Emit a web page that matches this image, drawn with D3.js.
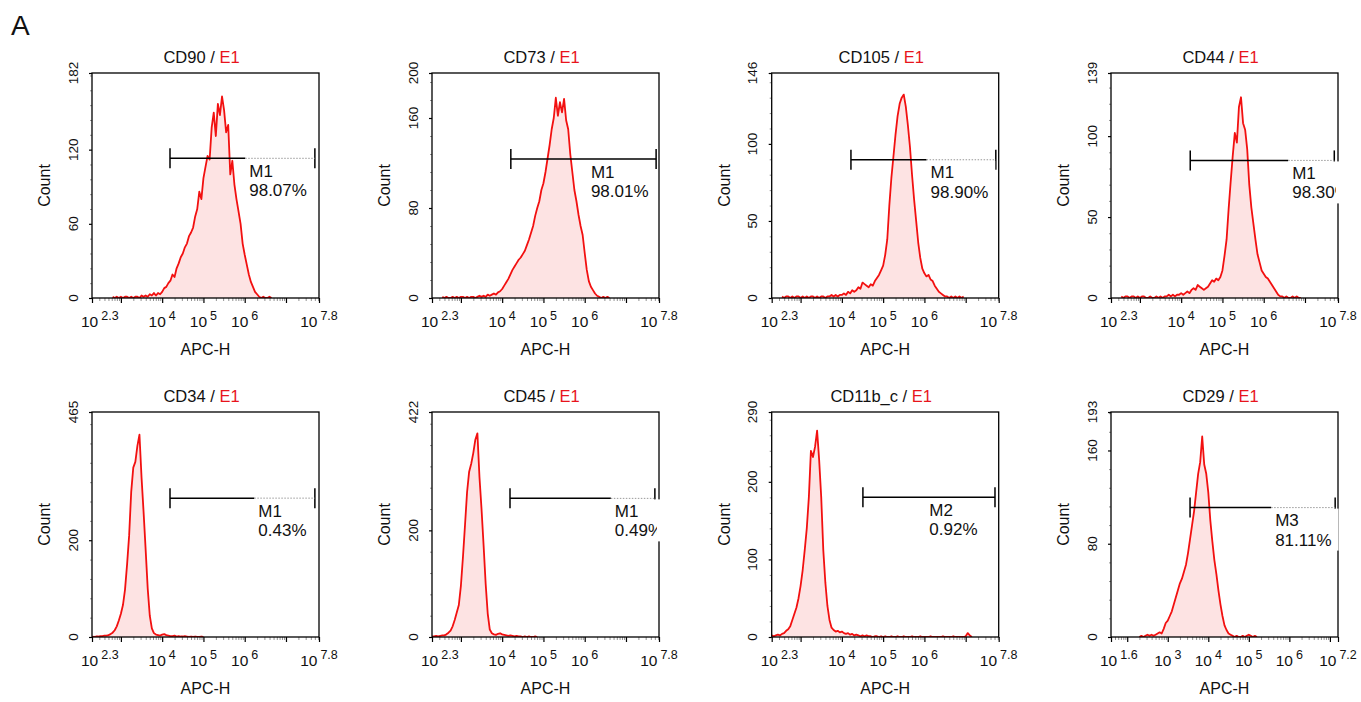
<!DOCTYPE html>
<meta charset="utf-8">
<style>

body {
  margin: 0;
  background: #fff;
  overflow: hidden;
}
svg text {
  font-family: "Liberation Sans", Arial, sans-serif;
  fill: #111;
}
.frame {
  fill: none;
  stroke: #000;
  stroke-width: 1.3;
}
.hist-fill {
  fill: #fde3e3;
  stroke: none;
}
.hist-line {
  fill: none;
  stroke: #f21010;
  stroke-width: 1.8;
  stroke-linejoin: round;
}
.axis path {
  display: none;
}
.axis.major line {
  stroke: #000;
  stroke-width: 1.2;
}
.axis.minor line {
  stroke: #777;
  stroke-width: 0.8;
}
.gate {
  stroke: #000;
  stroke-width: 1.5;
}
.gate-dot {
  stroke: #999;
  stroke-width: 1;
  stroke-dasharray: 1.5,1.5;
}

</style>
<svg id="svg" width="1361" height="702"></svg>
<script src="https://d3js.org/d3.v7.min.js"></script>
<script>

// ---- data ----
var markers = ["CD90", "CD73", "CD105", "CD44", "CD34", "CD45", "CD11b_c", "CD29"];
var sampleTag = "E1";

// x range of each panel, in log10 units
var xDomains = [[2.3, 7.8], [2.3, 7.8], [2.3, 7.8], [2.3, 7.8],
                [2.3, 7.8], [2.3, 7.8], [2.3, 7.8], [1.6, 7.2]];
var xTickLabels = [[2.3, 4, 5, 6, 7.8], [2.3, 4, 5, 6, 7.8], [2.3, 4, 5, 6, 7.8], [2.3, 4, 5, 6, 7.8],
                   [2.3, 4, 5, 6, 7.8], [2.3, 4, 5, 6, 7.8], [2.3, 4, 5, 6, 7.8], [1.6, 3, 4, 5, 6, 7.2]];

var yMax = [182, 200, 146, 139, 465, 422, 290, 193];
var yTicks = [[0, 60, 120, 182], [0, 80, 160, 200], [0, 50, 100, 146], [0, 50, 100, 139],
              [0, 200, 465], [0, 200, 422], [0, 100, 200, 290], [0, 80, 160, 193]];
var yMinorStep = [12, 16, 10, 10, 40, 40, 20, 16];

// marker gates: [low, high] in log10 units, level in counts, label position in log10 units
var gateNames = ["M1", "M1", "M1", "M1", "M1", "M1", "M2", "M3"];
var gatePct = ["98.07%", "98.01%", "98.90%", "98.30%", "0.43%", "0.49%", "0.92%", "81.11%"];
var gateLo = [4.19, 4.21, 4.22, 4.22, 4.19, 4.19, 4.51, 3.55];
var gateHi = [7.70, 7.73, 7.73, 7.71, 7.70, 7.70, 7.71, 7.13];
var gateLevel = [113, 123.5, 89.7, 85, 287, 260, 180, 111];
var gateLabelAt = [6.11, 6.15, 6.15, 6.69, 6.33, 6.73, 6.12, 5.65];

// histogram counts, one bin every 0.05 decade starting at histStart
var binStep = 0.05;
var histStart = [2.80, 2.55, 2.55, 2.55, 2.30, 2.30, 2.30, 2.30];

var cd90Counts = [1,0,1,0,1,0,1,1,0,1, 0,1,1,0,2,1,2,1,3,2, 4,2,4,3,5,8,9,12,14,19,
  17,24,28,33,36,41,44,50,53,57, 66,72,86,80,97,106,115,112,138,150,
  131,157,148,163,152,134,140,100,111,92, 80,70,60,44,35,27,19,13,9,5, 3,1,0,1,0,0,1,0];
var cd73Counts = [1,0,1,0,0,1,0,1,0,1, 1,0,1,0,1,1,0,1,2,1, 2,1,3,2,3,4,3,5,6,8,
  11,14,17,21,25,28,31,34,36,39, 42,47,52,58,64,73,80,86,96,102,
  112,124,136,150,160,178,162,174,165,177, 158,150,128,112,96,86,74,64,56,40,
  25,15,10,7,4,2,1,0,1,0, 1,0];
var cd105Counts = [1,0,1,1,0,1,0,1,1,0, 1,0,1,0,1,1,0,1,0,1, 1,0,1,1,2,1,2,1,2,2,
  3,2,4,3,5,4,5,7,6,10, 9,8,7,9,8,11,13,15,18,21, 28,38,60,78,92,106,118,126,130,132,
  124,112,98,80,64,50,36,26,19,16, 14,15,12,11,8,6,4,3,2,1, 1,0,1,0,1,0,1,0,1];
var cd44Counts = [1,0,1,1,0,1,1,0,1,0, 1,1,0,0,1,0,0,1,0,1, 0,1,1,2,1,2,1,2,2,3,
  2,3,4,3,5,6,5,8,7,6, 5,6,7,9,11,10,12,11,13,17, 26,36,55,72,88,102,96,118,124,108,
  104,92,70,56,46,36,27,22,17,15, 13,12,10,8,6,4,2,1,1,0, 1,0,0,1,0,1,0,0];
var cd34Counts = [1,0,1,1,2,2,3,3,4,6, 9,14,22,34,48,66,98,150,210,300,
  350,362,395,418,330,258,180,100,44,18, 8,5,4,3,5,6,4,3,2,2, 3,1,2,1,1,2,1,0,1,0, 1,0,0,1,0];
var cd45Counts = [1,1,2,1,2,3,3,5,8,12, 20,32,46,60,96,150,210,272,310,325,
  345,370,382,300,240,172,100,44,14,7, 5,4,6,7,5,4,3,2,3,2, 1,2,1,1,0,1,0,1,0,0, 1,0];
var cd11bCounts = [2,1,2,3,2,4,5,8,10,14, 22,30,38,50,66,86,112,140,180,240,
  232,245,266,228,180,112,70,40,22,12, 9,7,8,6,7,5,4,5,3,4, 2,3,2,1,2,1,2,1,1,0,
  1,1,0,1,0,1,0,0,1,0, 0,1,0,0,1,0,0,0,1,0, 0,0,1,0,0,0,0,1,0,0,
  0,0,0,1,0,0,0,0,1,0, 0,0,0,0,1,5,2,0];
var cd29Counts = [0,1,0,1,2,1,2,1,2,3, 4,3,7,12,14,18,22,28,34,40,
  46,50,56,62,72,84,96,108,124,140, 150,172,148,140,124,100,82,66,54,40,
  28,18,10,6,3,2,1,0,1,0, 0,1,0,1,2,1,0,1,0];

var counts = [cd90Counts, cd73Counts, cd105Counts, cd44Counts,
              cd34Counts, cd45Counts, cd11bCounts, cd29Counts];

// ---- layout ----
var svg = d3.select("svg");
var colX = [92, 432, 771.7, 1111],
    rowY = [73, 412],
    pw = 227,
    ph = 225;
// gate labels that sit in a white text box (line shows dotted behind it)
var gateLabelBoxed = [true, false, true, true, true, true, false, true];

svg.append("text")
    .attr("x", 11)
    .attr("y", 35)
    .attr("font-size", 28)
    .text("A");

var defs = svg.append("defs");

markers.forEach(function(name, i) {
  var left = colX[i % 4],
      top = rowY[Math.floor(i / 4)],
      dom = xDomains[i];

  var g = svg.append("g")
      .attr("transform", "translate(" + left + "," + top + ")");

  var x = d3.scaleLog()
      .domain([Math.pow(10, dom[0]), Math.pow(10, dom[1])])
      .range([0, pw]);
  var y = d3.scaleLinear()
      .domain([0, yMax[i]])
      .range([ph, 0]);

  defs.append("clipPath").attr("id", "clip" + i)
    .append("rect").attr("x", 0).attr("y", -1).attr("width", pw).attr("height", ph + 1);
  defs.append("clipPath").attr("id", "tclip" + i)
    .append("rect").attr("x", 0).attr("y", -5).attr("width", pw - 2).attr("height", ph + 5);

  // histogram
  var pts = counts[i].map(function(c, k) {
    return { v: Math.pow(10, histStart[i] + k * binStep), c: c };
  });

  var area = d3.area()
      .x(function(d) { return x(d.v); })
      .y0(ph)
      .y1(function(d) { return y(d.c); });
  var line = d3.line()
      .x(function(d) { return x(d.v); })
      .y(function(d) { return y(d.c); });

  var hist = g.append("g").attr("clip-path", "url(#clip" + i + ")");
  hist.append("path").attr("class", "hist-fill").attr("d", area(pts));
  hist.append("path").attr("class", "hist-line").attr("d", line(pts));

  // x ticks: decades + panel ends as majors, 2..9 multiples as minors
  var majors = [Math.pow(10, dom[0])], minors = [];
  for (var d = Math.floor(dom[0]); d <= Math.ceil(dom[1]); d++) {
    if (d > dom[0] && d < dom[1]) majors.push(Math.pow(10, d));
    for (var m = 2; m <= 9; m++) {
      var lv = Math.log10(m) + d;
      if (lv > dom[0] + 0.01 && lv < dom[1] - 0.01) minors.push(m * Math.pow(10, d));
    }
  }
  majors.push(Math.pow(10, dom[1]));

  g.append("g")
      .attr("class", "axis minor")
      .attr("transform", "translate(0," + ph + ")")
      .call(d3.axisBottom(x).tickValues(minors).tickSize(3).tickFormat(""));
  g.append("g")
      .attr("class", "axis major")
      .attr("transform", "translate(0," + ph + ")")
      .call(d3.axisBottom(x).tickValues(majors).tickSize(5).tickFormat(""));

  // y ticks
  var yMinor = d3.range(0, yMax[i], yMinorStep[i]).filter(function(v) {
    return yTicks[i].indexOf(v) < 0;
  });
  g.append("g")
      .attr("class", "axis minor")
      .call(d3.axisLeft(y).tickValues(yMinor).tickSize(2).tickFormat(""));
  g.append("g")
      .attr("class", "axis major")
      .call(d3.axisLeft(y).tickValues(yTicks[i]).tickSize(3).tickFormat(""));

  g.append("rect")
      .attr("class", "frame")
      .attr("width", pw)
      .attr("height", ph);

  // x tick labels as 10^n
  xTickLabels[i].forEach(function(t, k) {
    var tx = g.append("text")
        .attr("x", x(Math.pow(10, t)) + (k === 0 ? -11 : 0))
        .attr("y", ph + 29)
        .attr("font-size", 15.5)
        .attr("text-anchor", k === 0 ? "start" : "middle");
    tx.append("tspan").text("10");
    tx.append("tspan")
        .attr("dx", 3)
        .attr("dy", -7)
        .attr("font-size", 12.5)
        .text(Number.isInteger(t) ? String(t) : t.toFixed(1));
  });

  // y tick labels, rotated
  yTicks[i].forEach(function(t) {
    g.append("text")
        .attr("transform", "translate(-14.5," + y(t) + ") rotate(-90)")
        .attr("text-anchor", "middle")
        .attr("font-size", 13.5)
        .text(t);
  });

  g.append("text")
      .attr("transform", "translate(-42," + (ph / 2) + ") rotate(-90)")
      .attr("text-anchor", "middle")
      .attr("font-size", 16)
      .text("Count");

  g.append("text")
      .attr("x", pw / 2)
      .attr("y", ph + 57)
      .attr("text-anchor", "middle")
      .attr("font-size", 16)
      .text("APC-H");

  var title = g.append("text")
      .attr("x", pw / 2 - 4)
      .attr("y", -10)
      .attr("text-anchor", "middle")
      .attr("font-size", 16.5);
  title.append("tspan").text(name + " / ");
  title.append("tspan").style("fill", "#e8141c").text(sampleTag);

  // marker gate
  var gy = y(gateLevel[i]),
      gx1 = x(Math.pow(10, gateLo[i])),
      gx2 = x(Math.pow(10, gateHi[i])),
      lx = x(Math.pow(10, gateLabelAt[i])),
      boxed = gateLabelBoxed[i];

  g.append("line").attr("class", "gate")
      .attr("x1", gx1).attr("x2", boxed ? lx - 4 : gx2).attr("y1", gy).attr("y2", gy);
  [gx1, gx2].forEach(function(cx) {
    g.append("line").attr("class", "gate")
        .attr("x1", cx).attr("x2", cx).attr("y1", gy - 10).attr("y2", gy + 10);
  });

  var box = g.append("rect").attr("fill", "#fff");
  if (boxed) {
    g.append("line").attr("class", "gate-dot")
        .attr("x1", lx - 4).attr("x2", gx2).attr("y1", gy).attr("y2", gy);
  }

  var lab = g.append("g").attr("clip-path", "url(#tclip" + i + ")");
  var t1 = lab.append("text").attr("x", lx).attr("y", gy + 18.5).attr("font-size", 17).text(gateNames[i]);
  var t2 = lab.append("text").attr("x", lx).attr("y", gy + 38).attr("font-size", 17).text(gatePct[i]);
  var textEnd = lx + Math.max(t1.node().getComputedTextLength(), t2.node().getComputedTextLength());
  var boxRight = Math.min(textEnd + 7, pw + 3);
  if (boxed) {
    box.attr("x", lx - 4)
        .attr("y", gy + 1)
        .attr("width", boxRight - (lx - 4))
        .attr("height", 42);
  } else {
    box.remove();
  }
});

</script>
